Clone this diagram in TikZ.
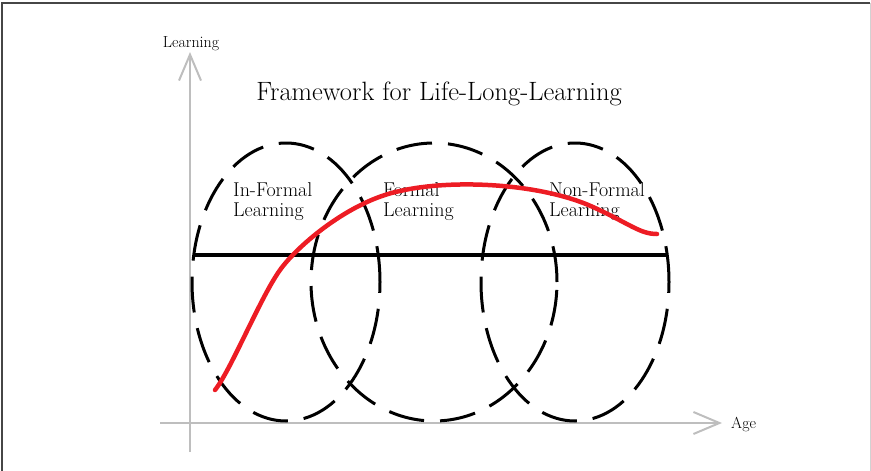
\documentclass[tikz,border=0pt]{standalone}
\usepackage{tikz}
\usetikzlibrary{arrows.meta,shapes.geometric}
\definecolor{curveRed}{RGB}{237,28,36}
\definecolor{axisGray}{RGB}{190,190,190}
\definecolor{frameGray}{RGB}{70,70,70}
\newcommand{\areaNode}{\node[align=left,anchor=north west,inner sep=0pt,font=\fontsize{20}{20}\selectfont]}
\newcommand{\axisNode}{\node[inner sep=0pt,font=\fontsize{16}{18}\selectfont]}

\begin{document}
\begin{tikzpicture}[x=1pt,y=-1pt]

    \useasboundingbox (0,0) rectangle (871,471);
    % frame of the shot
    \draw[frameGray,line width=1.5pt] (2,471) -- (2,3) -- (870,3);
    \draw[axisGray!70,line width=1pt] (870,3) -- (870,471);

    % axes
    \coordinate (origin) at (190,423);
    \coordinate (ybottom) at (190,452);
    \coordinate (ytip) at (190,52);
    \coordinate (xleft) at (160,423);
    \coordinate (xtip) at (722,423);
    \draw[axisGray,line width=2pt,-{Straight Barb[length=26pt,width=22pt]}] (ybottom) -- (ytip);
    \draw[axisGray,line width=2pt,-{Straight Barb[length=26pt,width=22pt]}] (xleft) -- (xtip);
    \axisNode[anchor=base] (ylabel) at (191,47) {Learning};
    \axisNode[anchor=base west] (xlabel) at (731,428) {Age};

    \node[anchor=base,inner sep=0pt,font=\fontsize{26.5}{30}\selectfont] (title) at (439,100) {Framework for Life-Long-Learning};

    % the three areas
    \foreach \cx/\rx/\name in {286/94/inf, 434/123/form, 575/94/nonf}
             {
               \node[ellipse,draw,line width=3pt,dash pattern=on 36pt off 16pt,
                     minimum width=2*\rx pt,minimum height=278pt,inner sep=0pt] (\name) at (\cx,282) {};
             };

    \coordinate (barL) at (193,255);
    \coordinate (barR) at (667,255);
    \draw[line width=3.5pt] (barL) -- (barR);

    \areaNode (infText) at (233,182) {In-Formal\\Learning};
    \areaNode (formText) at (383,182) {Formal\\Learning};
    \areaNode (nonfText) at (549,182) {Non-Formal\\Learning};

    % life long curve
    \coordinate (lifeStart) at (215,390);
    \coordinate (lifeEnd) at (657,234);
    \draw[curveRed,line width=4.5pt,line cap=round] (lifeStart)
          .. controls (231,370) and (260,298) .. (280,270)
          .. controls (298,245) and (350,201) .. (400,191)
          .. controls (452,179) and (540,183) .. (593,207)
          .. controls (630,224) and (640,234) .. (lifeEnd);

\end{tikzpicture}
\end{document}
